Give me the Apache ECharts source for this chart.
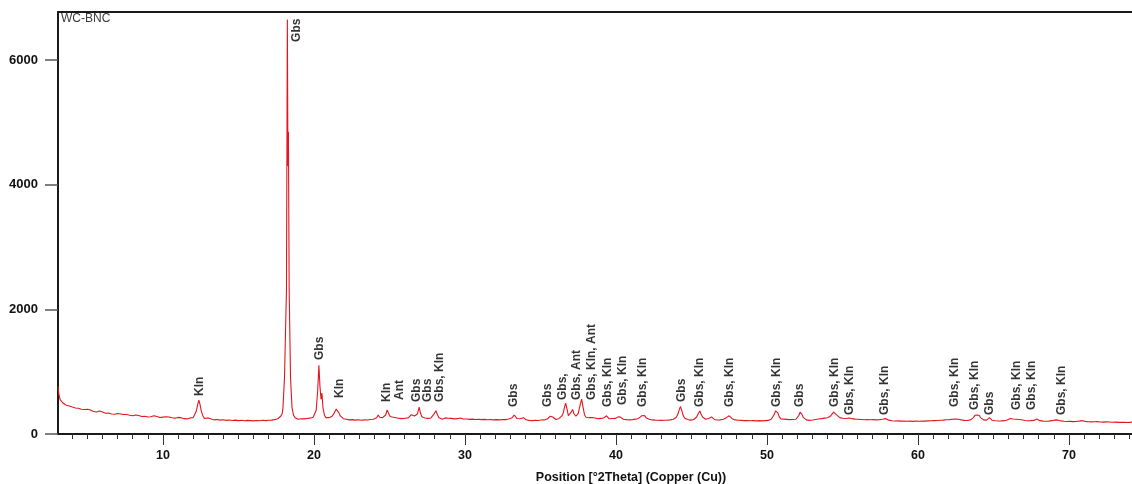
<!DOCTYPE html>
<html>
<head>
<meta charset="utf-8">
<title>WC-BNC</title>
<script src="https://cdn.jsdelivr.net/npm/echarts@6/dist/echarts.min.js"></script>
<style>
  html, body { margin: 0; padding: 0; background: #fff; }
  #chart { width: 1132px; height: 484px; }
</style>
</head>
<body>
<div id="chart"></div>
<script>
// Diffractogram of sample WC-BNC: [position °2θ, counts]
const pattern = [
  [3.05,760],[3.1,650],[3.15,590],[3.2,548],[3.3,528],[3.4,492],[3.5,486],[3.6,462],[3.7,470],[3.8,448],
  [3.9,458],[4.0,432],[4.1,445],[4.2,418],[4.3,430],[4.4,412],[4.5,424],[4.6,396],[4.7,410],[4.8,392],
  [5.0,398],[5.1,372],[5.2,386],[5.4,360],[5.5,378],[5.6,352],[5.8,368],[5.9,340],[6.0,352],[6.2,332],
  [6.3,350],[6.4,336],[6.6,322],[6.7,340],[6.8,318],[7.0,330],[7.1,308],[7.2,322],[7.4,312],[7.5,298],
  [7.6,314],[7.8,300],[7.9,312],[8.0,292],[8.2,306],[8.3,284],[8.4,298],[8.6,280],[8.7,296],[8.8,286],
  [9.0,272],[9.1,290],[9.2,276],[9.4,294],[9.5,270],[9.6,280],[9.8,264],[9.9,282],[10.0,270],[10.2,276],
  [10.3,258],[10.4,272],[10.6,262],[10.7,276],[10.8,254],[11.0,266],[11.1,248],[11.2,262],[11.4,246],[11.5,258],
  [11.6,242],[11.8,258],[11.9,246],[12.0,262],[12.1,290],[12.2,360],[12.3,470],[12.38,545],[12.45,480],[12.55,360],
  [12.65,290],[12.75,250],[12.85,268],[13.0,256],[13.1,272],[13.2,240],[13.3,252],[13.4,226],[13.5,244],[13.6,232],
  [13.7,248],[13.8,222],[13.9,238],[14.0,228],[14.1,244],[14.2,218],[14.3,236],[14.4,224],[14.5,240],[14.6,216],
  [14.7,232],[14.8,222],[14.9,238],[15.0,214],[15.1,230],[15.2,220],[15.3,236],[15.4,212],[15.5,228],[15.6,218],
  [15.7,234],[15.8,214],[15.9,226],[16.0,210],[16.1,230],[16.2,216],[16.3,232],[16.4,212],[16.5,228],[16.6,220],
  [16.7,236],[16.8,214],[16.9,232],[17.0,220],[17.1,238],[17.2,222],[17.3,236],[17.4,230],[17.5,246],[17.6,245],
  [17.7,262],[17.8,285],[17.9,330],[17.95,420],[18.05,900],[18.18,2300],[18.24,6650],[18.28,4300],[18.31,4850],[18.36,2300],
  [18.45,900],[18.55,420],[18.65,300],[18.75,262],[18.85,244],[18.95,236],[19.05,228],[19.15,244],[19.25,226],[19.35,242],
  [19.45,232],[19.55,248],[19.65,236],[19.75,254],[19.85,252],[19.95,270],[20.05,295],[20.15,380],[20.25,700],[20.33,1104],
  [20.4,760],[20.47,560],[20.53,656],[20.6,420],[20.7,300],[20.8,262],[20.9,248],[21.0,262],[21.1,252],[21.2,285],
  [21.3,318],[21.4,365],[21.48,400],[21.55,372],[21.65,340],[21.75,290],[21.85,262],[21.95,246],[22.05,256],[22.15,236],
  [22.25,248],[22.35,226],[22.45,242],[22.55,230],[22.65,246],[22.75,222],[22.85,240],[22.95,228],[23.05,244],[23.15,220],
  [23.25,238],[23.35,226],[23.45,242],[23.55,224],[23.65,240],[23.75,232],[23.85,248],[23.95,236],[24.05,256],[24.15,262],
  [24.26,305],[24.35,268],[24.45,245],[24.55,262],[24.65,258],[24.75,305],[24.85,385],[24.95,330],[25.05,280],[25.15,262],
  [25.25,270],[25.36,295],[25.45,260],[25.55,242],[25.65,250],[25.75,230],[25.85,246],[25.95,236],[26.05,252],[26.15,240],
  [26.25,258],[26.35,265],[26.45,310],[26.57,335],[26.66,290],[26.75,275],[26.85,320],[26.97,430],[27.05,340],[27.15,275],
  [27.25,248],[27.35,256],[27.45,236],[27.55,250],[27.65,240],[27.75,258],[27.85,262],[27.95,320],[28.08,372],[28.18,310],
  [28.28,262],[28.38,250],[28.5,238],[28.6,255],[28.7,258],[28.79,280],[28.9,252],[29.0,236],[29.1,250],[29.2,228],
  [29.3,242],[29.4,230],[29.5,246],[29.6,242],[29.7,258],[29.78,268],[29.9,240],[30.0,226],[30.1,240],[30.2,218],
  [30.3,234],[30.4,222],[30.5,238],[30.6,214],[30.7,232],[30.8,220],[30.9,236],[31.0,212],[31.1,230],[31.2,218],
  [31.3,234],[31.4,210],[31.5,228],[31.6,216],[31.7,232],[31.8,212],[31.9,226],[32.0,214],[32.1,230],[32.2,210],
  [32.3,226],[32.4,216],[32.5,232],[32.6,214],[32.7,230],[32.8,226],[32.9,240],[33.0,238],[33.1,256],[33.18,285],
  [33.27,305],[33.35,275],[33.45,248],[33.55,232],[33.65,244],[33.75,240],[33.87,262],[33.95,246],[34.05,228],[34.15,240],
  [34.25,218],[34.35,232],[34.45,214],[34.55,230],[34.65,220],[34.75,236],[34.85,216],[34.95,232],[35.05,224],[35.15,240],
  [35.25,226],[35.35,244],[35.45,240],[35.55,262],[35.65,285],[35.74,305],[35.82,272],[35.92,248],[36.02,232],[36.12,250],
  [36.22,246],[36.32,262],[36.42,290],[36.5,330],[36.6,430],[36.67,495],[36.75,415],[36.85,295],[36.95,285],[37.05,355],
  [37.13,395],[37.22,325],[37.35,285],[37.5,325],[37.62,455],[37.73,560],[37.82,435],[37.92,310],[38.02,270],[38.12,252],
  [38.22,262],[38.32,246],[38.42,265],[38.52,244],[38.62,256],[38.72,232],[38.82,246],[38.92,234],[39.02,250],[39.12,246],
  [39.22,262],[39.3,278],[39.38,292],[39.46,268],[39.56,244],[39.66,236],[39.76,248],[39.86,232],[39.96,250],[40.06,258],
  [40.14,275],[40.22,290],[40.3,270],[40.4,246],[40.5,236],[40.6,250],[40.7,230],[40.8,246],[40.9,226],[41.0,242],
  [41.1,230],[41.2,246],[41.3,238],[41.4,254],[41.5,250],[41.6,270],[41.7,292],[41.81,318],[41.9,295],[42.0,262],
  [42.1,250],[42.2,238],[42.3,248],[42.4,226],[42.5,240],[42.6,222],[42.7,238],[42.8,220],[42.9,236],[43.0,218],
  [43.1,234],[43.2,220],[43.3,236],[43.4,222],[43.5,238],[43.6,226],[43.7,242],[43.8,236],[43.9,252],[44.0,268],
  [44.1,315],[44.2,395],[44.28,440],[44.36,380],[44.45,300],[44.55,258],[44.65,240],[44.75,232],[44.85,244],[44.95,222],
  [45.05,238],[45.15,232],[45.25,250],[45.35,272],[45.45,325],[45.56,368],[45.65,312],[45.75,268],[45.85,242],[45.95,236],
  [46.05,248],[46.15,250],[46.25,262],[46.33,275],[46.42,255],[46.52,234],[46.62,242],[46.72,224],[46.82,238],[46.92,226],
  [47.02,240],[47.12,236],[47.22,252],[47.32,262],[47.42,282],[47.5,292],[47.6,270],[47.7,246],[47.8,238],[47.9,226],
  [48.0,240],[48.1,220],[48.2,234],[48.3,218],[48.4,232],[48.5,214],[48.6,230],[48.7,216],[48.8,232],[48.9,212],
  [49.0,228],[49.1,214],[49.2,230],[49.3,210],[49.4,226],[49.5,214],[49.6,230],[49.7,210],[49.8,226],[49.9,214],
  [50.0,230],[50.1,218],[50.2,236],[50.3,240],[50.4,262],[50.5,320],[50.57,370],[50.64,395],[50.72,340],[50.82,275],
  [50.92,242],[51.02,228],[51.12,238],[51.22,218],[51.32,234],[51.42,214],[51.52,230],[51.62,216],[51.72,232],[51.82,222],
  [51.92,236],[52.02,250],[52.12,300],[52.2,350],[52.25,358],[52.32,315],[52.42,262],[52.52,238],[52.62,226],[52.72,234],
  [52.82,218],[52.92,234],[53.02,224],[53.12,240],[53.22,232],[53.32,248],[53.42,240],[53.52,256],[53.62,246],[53.72,262],
  [53.82,254],[53.92,270],[54.02,262],[54.12,280],[54.22,290],[54.32,318],[54.42,350],[54.48,362],[54.55,336],[54.65,300],
  [54.75,272],[54.85,258],[54.95,248],[55.05,252],[55.15,238],[55.25,248],[55.35,244],[55.45,256],[55.55,240],[55.65,246],
  [55.75,226],[55.85,238],[55.95,222],[56.05,236],[56.15,218],[56.25,232],[56.35,214],[56.45,228],[56.55,216],[56.65,230],
  [56.75,212],[56.85,228],[56.95,214],[57.05,230],[57.15,212],[57.25,226],[57.35,216],[57.45,230],[57.55,220],[57.65,236],
  [57.75,232],[57.88,246],[57.98,230],[58.08,222],[58.18,234],[58.28,212],[58.38,226],[58.48,208],[58.58,224],[58.68,210],
  [58.78,222],[58.88,206],[58.98,220],[59.08,208],[59.18,224],[59.28,204],[59.38,218],[59.48,206],[59.58,220],[59.68,202],
  [59.78,218],[59.88,208],[59.98,222],[60.08,204],[60.18,220],[60.28,208],[60.38,224],[60.48,206],[60.58,222],[60.68,210],
  [60.78,226],[60.88,212],[60.98,228],[61.08,214],[61.18,230],[61.28,216],[61.38,232],[61.48,220],[61.58,234],[61.68,222],
  [61.78,238],[61.88,228],[61.98,242],[62.08,230],[62.18,246],[62.28,236],[62.38,250],[62.48,240],[62.58,252],[62.68,236],
  [62.78,244],[62.88,226],[62.98,236],[63.08,218],[63.18,232],[63.28,216],[63.38,230],[63.48,226],[63.58,244],[63.68,262],
  [63.78,300],[63.87,330],[63.93,305],[64.0,290],[64.07,296],[64.15,262],[64.25,238],[64.35,226],[64.45,236],[64.55,222],
  [64.65,240],[64.74,262],[64.82,240],[64.92,220],[65.02,232],[65.12,212],[65.22,226],[65.32,208],[65.42,224],[65.52,210],
  [65.62,226],[65.72,214],[65.82,230],[65.92,226],[66.02,244],[66.12,248],[66.2,256],[66.28,240],[66.38,246],[66.48,236],
  [66.58,250],[66.68,232],[66.78,246],[66.88,228],[66.98,236],[67.08,216],[67.18,228],[67.28,212],[67.38,226],[67.48,214],
  [67.58,228],[67.68,218],[67.78,236],[67.88,240],[67.98,222],[68.08,214],[68.18,226],[68.28,206],[68.38,220],[68.48,204],
  [68.58,218],[68.68,206],[68.78,222],[68.88,214],[68.98,230],[69.08,226],[69.18,236],[69.28,222],[69.38,230],[69.48,210],
  [69.58,222],[69.68,204],[69.78,216],[69.88,200],[69.98,214],[70.08,202],[70.18,216],[70.28,198],[70.38,212],[70.48,200],
  [70.58,214],[70.68,206],[70.78,222],[70.88,214],[70.98,226],[71.08,202],[71.18,214],[71.28,196],[71.38,210],[71.48,194],
  [71.58,208],[71.68,196],[71.78,212],[71.88,198],[71.98,210],[72.08,192],[72.18,206],[72.28,190],[72.38,204],[72.48,194],
  [72.58,208],[72.68,192],[72.78,206],[72.88,188],[72.98,202],[73.08,190],[73.18,204],[73.28,186],[73.38,200],[73.48,188],
  [73.58,202],[73.68,186],[73.78,198],[73.88,184],[73.98,198],[74.08,186],[74.18,196]
];

// Phase identifications: [position °2θ, counts at label foot, text]
const peakLabels = [
  [12.45, 610, 'Kln'],
  [18.87, 6290, 'Gbs'],
  [20.40, 1187, 'Gbs'],
  [21.72, 577, 'Kln'],
  [24.83, 513, 'Kln'],
  [25.70, 545, 'Ant'],
  [26.82, 513, 'Gbs'],
  [27.55, 513, 'Gbs'],
  [28.34, 513, 'Gbs, Kln'],
  [33.25, 433, 'Gbs'],
  [35.50, 433, 'Gbs'],
  [36.49, 545, 'Gbs,'],
  [37.42, 545, 'Gbs, Ant'],
  [38.41, 545, 'Gbs, Kln, Ant'],
  [39.47, 433, 'Gbs, Kln'],
  [40.46, 465, 'Gbs, Kln'],
  [41.79, 433, 'Gbs, Kln'],
  [44.37, 513, 'Gbs'],
  [45.56, 433, 'Gbs, Kln'],
  [47.55, 433, 'Gbs, Kln'],
  [50.66, 433, 'Gbs, Kln'],
  [52.19, 433, 'Gbs'],
  [54.50, 433, 'Gbs, Kln'],
  [55.50, 305, 'Gbs, Kln'],
  [57.81, 305, 'Gbs, Kln'],
  [62.45, 433, 'Gbs, Kln'],
  [63.77, 385, 'Gbs, Kln'],
  [64.77, 305, 'Gbs'],
  [66.56, 385, 'Gbs, Kln'],
  [67.55, 385, 'Gbs, Kln'],
  [69.54, 305, 'Gbs, Kln']
];

const countTicks = [0, 2000, 4000, 6000];
const angleLabels = [10, 20, 30, 40, 50, 60, 70];
const angleMinorTicks = [4,5,6,7,8,9,10,11,12,13,14,15,16,17,18,19,20,21,22,23,24,25,26,27,28,29,30,
  31,32,33,34,35,36,37,38,39,40,41,42,43,44,45,46,47,48,49,50,51,52,53,54,55,56,57,58,59,60,
  61,62,63,64,65,66,67,68,69,70,71,72,73,74];

const X_MIN = 3.05, X_MAX = 74.18, Y_MAX = 6770;
const FONT = '"Liberation Sans", Arial, sans-serif';
const frameColor = '#1a1a1a';

const chart = echarts.init(document.getElementById('chart'), null, { renderer: 'canvas' });

chart.setOption({
  animation: false,
  backgroundColor: '#ffffff',
  title: {
    text: 'WC-BNC',
    left: 61, top: 13,
    padding: 0,
    textStyle: { fontFamily: FONT, fontSize: 12, fontWeight: 'normal', color: '#3a3a3a' }
  },
  grid: { left: 58, right: 0, top: 12, bottom: 50, containLabel: false, outerBoundsMode: 'none' },
  xAxis: [
    {
      type: 'value', position: 'bottom', min: X_MIN, max: X_MAX,
      name: 'Position [°2Theta] (Copper (Cu))',
      nameLocation: 'middle', nameGap: 37,
      nameTextStyle: {
        fontFamily: FONT, fontSize: 12.5, fontWeight: 'bold', color: '#111',
        padding: [0, 0, 0, 72]
      },
      axisLine: { show: true, lineStyle: { color: frameColor, width: 2 } },
      axisTick: { show: true, length: 5, customValues: angleMinorTicks, lineStyle: { color: '#333', width: 1 } },
      axisLabel: {
        customValues: angleLabels, margin: 15,
        formatter: v => String(v),
        fontFamily: FONT, fontSize: 12.5, fontWeight: 'bold', color: '#111'
      },
      splitLine: { show: false }
    },
    {
      // longer ticks at the labelled decades
      type: 'value', position: 'bottom', min: X_MIN, max: X_MAX,
      axisLine: { show: false },
      axisTick: { show: true, length: 11, customValues: angleLabels, lineStyle: { color: '#333', width: 1 } },
      axisLabel: { show: false },
      splitLine: { show: false }
    },
    {
      // upper frame line
      type: 'value', position: 'top', min: X_MIN, max: X_MAX,
      axisLine: { show: true, onZero: false, lineStyle: { color: frameColor, width: 2 } },
      axisTick: { show: false },
      axisLabel: { show: false },
      splitLine: { show: false }
    }
  ],
  yAxis: {
    type: 'value', min: 0, max: Y_MAX,
    axisLine: { show: true, lineStyle: { color: frameColor, width: 2 } },
    axisTick: { show: true, length: 13, customValues: countTicks, lineStyle: { color: '#555', width: 1.5 } },
    axisLabel: {
      customValues: countTicks, margin: 20,
      formatter: v => String(v),
      fontFamily: FONT, fontSize: 13, fontWeight: 'bold', color: '#111'
    },
    splitLine: { show: false }
  },
  series: [
    {
      type: 'line',
      data: pattern,
      showSymbol: false,
      symbol: 'none',
      lineStyle: { color: '#e3161e', width: 1.1 },
      clip: true,
      z: 3
    },
    {
      type: 'scatter',
      data: peakLabels.map(p => ({ value: [p[0], p[1]], name: p[2] })),
      symbolSize: 0,
      silent: true,
      z: 4,
      label: {
        show: true,
        position: 'inside',
        rotate: 90,
        align: 'left',
        verticalAlign: 'middle',
        formatter: p => p.name,
        fontFamily: FONT, fontSize: 12, fontWeight: 'bold', color: '#000'
      }
    }
  ]
});
</script>
</body>
</html>
